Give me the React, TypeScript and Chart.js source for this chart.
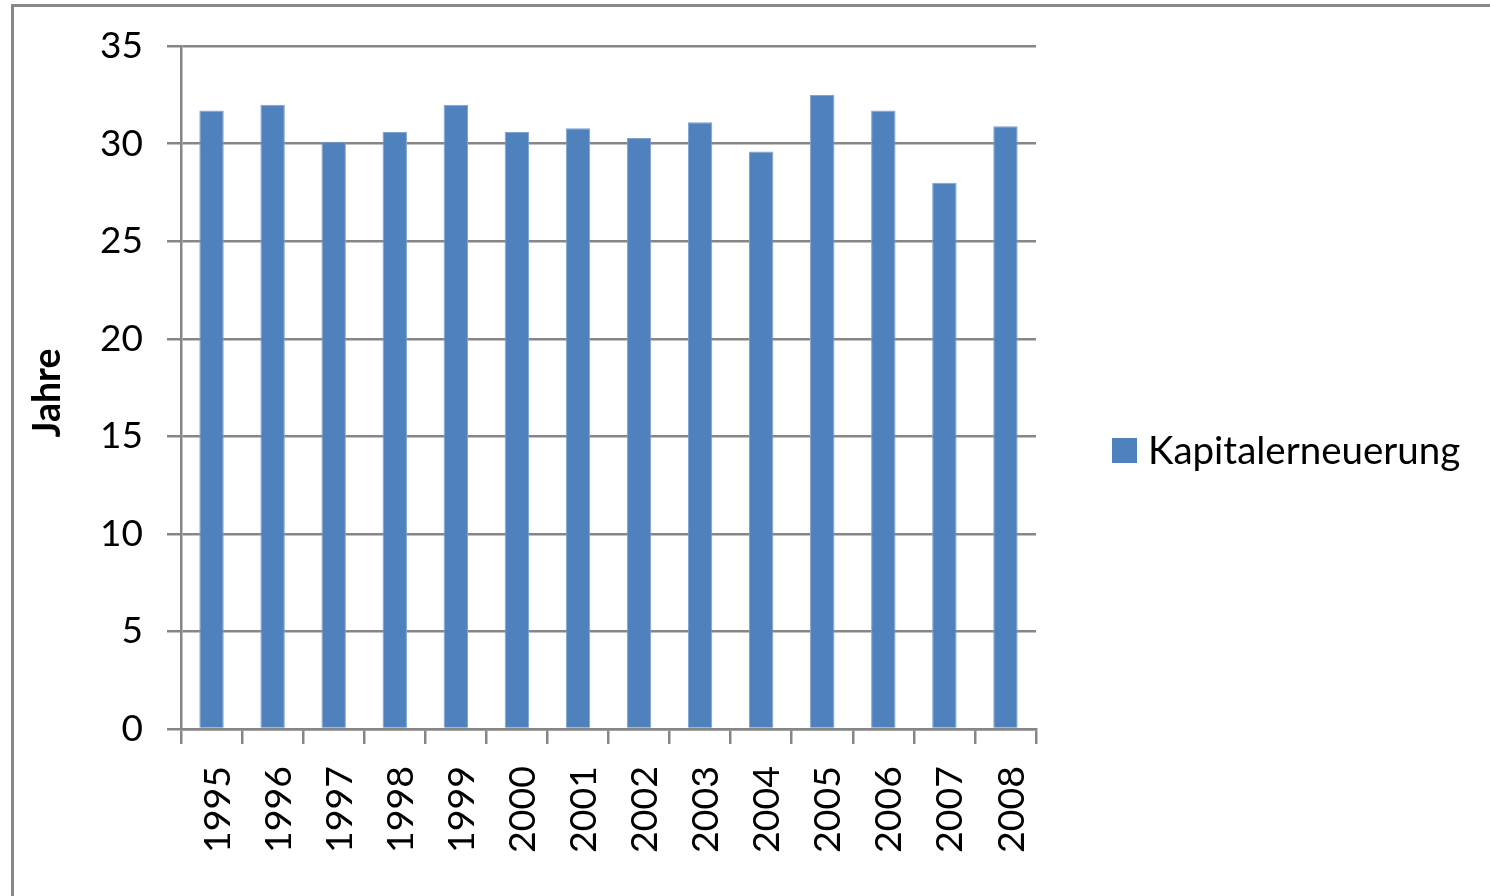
import React, { useEffect, useRef } from "react";
import { Chart, registerables } from "chart.js";

Chart.register(...registerables);

const categories = ["1995", "1996", "1997", "1998", "1999", "2000", "2001", "2002", "2003", "2004", "2005", "2006", "2007", "2008"];
const values = [31.7, 32.0, 30.1, 30.6, 32.0, 30.6, 30.8, 30.3, 31.1, 29.6, 32.5, 31.7, 28.0, 30.9];
const seriesLabel = "Kapitalerneuerung";
const yAxisTitle = "Jahre";
const yMin = 0;
const yMax = 35;
const yStep = 5;

const BAR = "#4F81BD";
const GRID = "#868686";
const FONT = "Lato, 'Open Sans', sans-serif";

const decorPlugin = {
  id: "decor",
  afterDraw(chart: any) {
    const ctx = chart.ctx;
    const ds = chart.data.datasets[0];
    ctx.save();
    // legend
    ctx.fillStyle = ds.backgroundColor;
    ctx.fillRect(1112, 438, 25, 25);
    ctx.fillStyle = "#000";
    ctx.font = `38.5px ${FONT}`;
    ctx.textBaseline = "middle";
    ctx.textAlign = "left";
    ctx.fillText(ds.label, 1148, 452);
    // y axis title
    ctx.translate(48, 393);
    ctx.rotate(-Math.PI / 2);
    ctx.font = `bold 37.5px ${FONT}`;
    ctx.textAlign = "center";
    ctx.textBaseline = "middle";
    ctx.fillText(yAxisTitle, 0, 0);
    ctx.restore();
  },
};

export default function App() {
  const ref = useRef<HTMLCanvasElement | null>(null);
  useEffect(() => {
    if (!ref.current) return;
    const chart = new Chart(ref.current, {
      type: "bar",
      data: {
        labels: categories,
        datasets: [
          {
            label: seriesLabel,
            data: values,
            backgroundColor: BAR,
            borderColor: "#7FA2D2",
            borderWidth: 1,
            barPercentage: 0.8,
            categoryPercentage: 0.5,
          },
        ],
      },
      options: {
        animation: false,
        responsive: false,
        maintainAspectRatio: false,
        layout: { padding: { top: 45, right: 454, left: 0, bottom: 0 } },
        plugins: { legend: { display: false }, tooltip: { enabled: false } },
        scales: {
          x: {
            offset: true,
            grid: {
              offset: true,
              drawOnChartArea: false,
              drawTicks: true,
              tickLength: 15,
              color: GRID,
              lineWidth: 2.5,
            },
            border: { display: true, color: GRID, width: 2.5 },
            ticks: {
              minRotation: 90,
              maxRotation: 90,
              padding: 22,
              labelOffset: 6,
              color: "#000",
              font: { family: FONT, size: 37.5 },
            },
            afterFit: (s: any) => {
              s.height = 167;
            },
          },
          y: {
            min: yMin,
            max: yMax,
            ticks: {
              stepSize: yStep,
              padding: 24,
              color: "#000",
              font: { family: FONT, size: 37 },
            },
            grid: { color: GRID, lineWidth: 2.5, tickLength: 14 },
            border: { display: true, color: GRID, width: 2.5 },
            afterFit: (s: any) => {
              s.width = 181;
            },
          },
        },
      },
      plugins: [decorPlugin],
    });
    return () => chart.destroy();
  }, []);

  return (
    <div style={{ position: "fixed", left: 0, top: 0, width: 1490, height: 896, overflow: "hidden", background: "#fff" }}>
      <div
        style={{
          position: "absolute",
          left: 11,
          top: 4,
          width: 2000,
          height: 2000,
          borderTop: "3px solid #888",
          borderLeft: "3px solid #888",
        }}
      />
      <canvas ref={ref} width={1490} height={896} style={{ position: "absolute", left: 0, top: 0, width: 1490, height: 896 }} />
    </div>
  );
}
